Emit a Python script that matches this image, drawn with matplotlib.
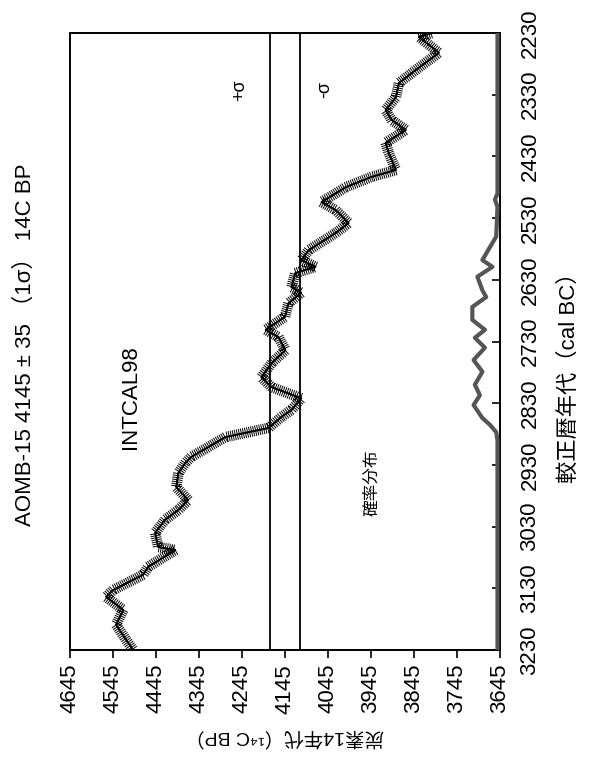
import matplotlib.pyplot as plt
import matplotlib.patheffects as pe

plt.rcParams['font.family'] = ['Liberation Sans', 'Noto Sans CJK JP', 'DejaVu Sans']

# sample result
sample_bp = 4145
sample_sigma = 35

# INTCAL98 curve
calib_calbc = [2230, 2236, 2262, 2290, 2311, 2334, 2355, 2371, 2387, 2408,
               2424, 2452, 2463, 2480, 2504, 2517, 2538, 2554, 2582, 2598,
               2609, 2619, 2642, 2651, 2668, 2690, 2711, 2723, 2744, 2765,
               2788, 2804, 2822, 2841, 2852, 2870, 2877, 2885, 2901, 2917,
               2927, 2943, 2966, 2987, 3003, 3019, 3040, 3063, 3068, 3095,
               3108, 3133, 3144, 3165, 3189, 3214, 3230]
calib_bp = [3803, 3834, 3787, 3841, 3880, 3887, 3911, 3897, 3864, 3911,
            3904, 3887, 3943, 4004, 4060, 4027, 3997, 4027, 4090, 4107,
            4074, 4121, 4130, 4107, 4137, 4145, 4190, 4160, 4144, 4176,
            4200, 4176, 4107, 4130, 4153, 4183, 4230, 4284, 4323, 4363,
            4377, 4393, 4398, 4370, 4393, 4424, 4447, 4440, 4400, 4463,
            4475, 4545, 4561, 4521, 4538, 4514, 4498]

# probability distribution (relative)
prob_calbc = [2230, 2490, 2500, 2512, 2560, 2577, 2598, 2609, 2625, 2647,
              2658, 2674, 2695, 2711, 2724, 2740, 2760, 2779, 2800, 2817,
              2833, 2854, 2865, 2877, 2890, 3230]
prob_value = [0, 0, 0.1, 0, 0.05, 0.3, 0.6, 0.2, 0.8, 0.6,
              0.45, 1.0, 1.0, 0.5, 0.9, 0.5, 0.95, 0.6, 0.9, 0.7,
              0.95, 0.6, 0.3, 0.05, 0, 0]

bp_ticks = list(range(4645, 3644, -100))
calbc_ticks = list(range(2230, 3231, 100))

W, H = 593, 771
fig = plt.figure(figsize=(W / 100, H / 100), dpi=100)
ax = fig.add_axes([70 / W, 1 - 650 / H, 430 / W, 617 / H])

ax.set_xlim(bp_ticks[0], bp_ticks[-1])
ax.set_ylim(calbc_ticks[-1], calbc_ticks[0])

# sigma lines
ax.axvline(sample_bp + sample_sigma, color='black', lw=1.3)
ax.axvline(sample_bp - sample_sigma, color='black', lw=1.3)

hairy = [pe.withTickedStroke(angle=90, spacing=1.5, length=2.3, linewidth=0.7),
         pe.withTickedStroke(angle=-90, spacing=1.5, length=2.3, linewidth=0.7)]
ax.plot(calib_bp, calib_calbc, color='black', lw=1.2, path_effects=hairy)

ax2 = ax.twiny()
ax2.set_xlim(17, -0.1)
ax2.plot(prob_value, prob_calbc, color='#555555', lw=3, solid_joinstyle='round')
ax2.set_xticks([])
for s in ax2.spines.values():
    s.set_visible(False)

for s in ax.spines.values():
    s.set_linewidth(1.4)

ax.set_xticks(bp_ticks)
ax.set_xticklabels([str(t) for t in bp_ticks], rotation=90)
ax.set_yticks(calbc_ticks)
ax.set_yticklabels([str(t) for t in calbc_ticks], rotation=90, va='center')
ax.yaxis.tick_right()
ax.tick_params(axis='x', direction='out', length=6, width=1.2, pad=4, labelsize=16)
ax.tick_params(axis='y', direction='in', length=6, width=1.2, pad=14, labelsize=16)

ax.set_xlabel('炭素14年代（¹⁴C BP）', rotation=180, fontsize=14, labelpad=10)
fig.text(569 / W, 1 - 372 / H, '較正暦年代（cal BC）', rotation=90,
         ha='center', va='center', fontsize=16)

fig.text(25 / W, 1 - 345 / H, 'AOMB-15 4145 ± 35 （1σ） 14C BP', rotation=90,
         ha='center', va='center', fontsize=16)
ax.text((130 - 70) / 430, 1 - (397 - 33) / 617, 'INTCAL98', transform=ax.transAxes,
        rotation=90, ha='center', va='center', fontsize=16)
ax.text((372 - 70) / 430, 1 - (483 - 33) / 617, '確率分布', transform=ax.transAxes,
        rotation=90, ha='center', va='center', fontsize=12)
ax.text((240 - 70) / 430, 1 - (90 - 33) / 617, '+σ', transform=ax.transAxes,
        rotation=90, ha='center', va='center', fontsize=13)
ax.text((325 - 70) / 430, 1 - (90 - 33) / 617, '-σ', transform=ax.transAxes,
        rotation=90, ha='center', va='center', fontsize=13)

fig.savefig('out.png', dpi=100)
